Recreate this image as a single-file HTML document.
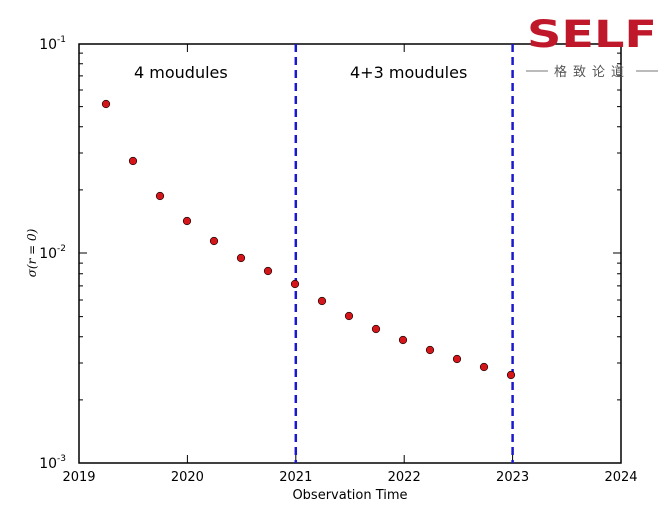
<!DOCTYPE html>
<html><head><meta charset="utf-8"><style>
body{margin:0;background:#fff;}
svg{display:block;font-family:"DejaVu Sans","Liberation Sans",sans-serif;}
</style></head><body>
<svg width="671" height="506" viewBox="0 0 671 506">
<rect width="671" height="506" fill="#fff"/>
<g stroke="#000" stroke-width="1">
<path d="M79 189.9h4M79 153h4M79 126.8h4M79 106.6h4M79 90h4M79 75.9h4M79 63.8h4M79 53.1h4M79 399.9h4M79 363h4M79 336.8h4M79 316.6h4M79 300h4M79 285.9h4M79 273.8h4M79 263.1h4M79 253h8"/>
<path d="M621 189.9h-4M621 153h-4M621 126.8h-4M621 106.6h-4M621 90h-4M621 75.9h-4M621 63.8h-4M621 53.1h-4M621 399.9h-4M621 363h-4M621 336.8h-4M621 316.6h-4M621 300h-4M621 285.9h-4M621 273.8h-4M621 263.1h-4M621 253h-8"/>
<path d="M187.4 463v-8M295.8 463v-8M404.2 463v-8M512.6 463v-8M187.4 44v8M295.8 44v8M404.2 44v8M512.6 44v8"/>
</g>
<rect x="79" y="44" width="542" height="419" fill="none" stroke="#000" stroke-width="1.5"/>
<g stroke="#1a1acc" stroke-width="2.5" stroke-dasharray="8,5">
<line x1="295.8" y1="44" x2="295.8" y2="463"/>
<line x1="512.6" y1="44" x2="512.6" y2="463"/>
</g>
<g fill="#d4151a" stroke="#000" stroke-width="0.6">
<circle cx="106" cy="104" r="3.8"/><circle cx="133" cy="161" r="3.8"/><circle cx="160" cy="196" r="3.8"/><circle cx="187" cy="221" r="3.8"/><circle cx="214" cy="241" r="3.8"/><circle cx="241" cy="258" r="3.8"/><circle cx="268" cy="271" r="3.8"/><circle cx="295" cy="284" r="3.8"/><circle cx="322" cy="301" r="3.8"/><circle cx="349" cy="316" r="3.8"/><circle cx="376" cy="329" r="3.8"/><circle cx="403" cy="340" r="3.8"/><circle cx="430" cy="350" r="3.8"/><circle cx="457" cy="359" r="3.8"/><circle cx="484" cy="367" r="3.8"/><circle cx="511" cy="375" r="3.8"/>
</g>
<g font-size="16" fill="#000">
<text x="134" y="78">4 moudules</text>
<text x="350" y="78">4+3 moudules</text>
</g>
<g font-size="13" fill="#000" text-anchor="middle">
<text x="79" y="481">2019</text><text x="187.4" y="481">2020</text><text x="295.8" y="481">2021</text><text x="404.2" y="481">2022</text><text x="512.6" y="481">2023</text><text x="621" y="481">2024</text>
<text x="350" y="499">Observation Time</text>
</g>
<g font-size="14" fill="#000" text-anchor="end">
<text x="66" y="49">10<tspan font-size="9" dy="-7">-1</tspan></text>
<text x="66" y="258">10<tspan font-size="9" dy="-7">-2</tspan></text>
<text x="66" y="468">10<tspan font-size="9" dy="-7">-3</tspan></text>
</g>
<text transform="translate(36,253) rotate(-90)" font-size="12" font-style="italic" text-anchor="middle" font-family="DejaVu Serif,serif">σ(r = 0)</text>
<text x="592" y="47" font-size="37" font-weight="bold" fill="#c0182b" text-anchor="middle" textLength="130" lengthAdjust="spacingAndGlyphs">SELF</text>
<path d="M526 71h22M636 71h22" stroke="#777"/>
<text x="592" y="76" font-size="13" fill="#555" text-anchor="middle" letter-spacing="6" font-family="Noto Sans CJK SC,sans-serif">格致论道</text>
</svg>
</body></html>
